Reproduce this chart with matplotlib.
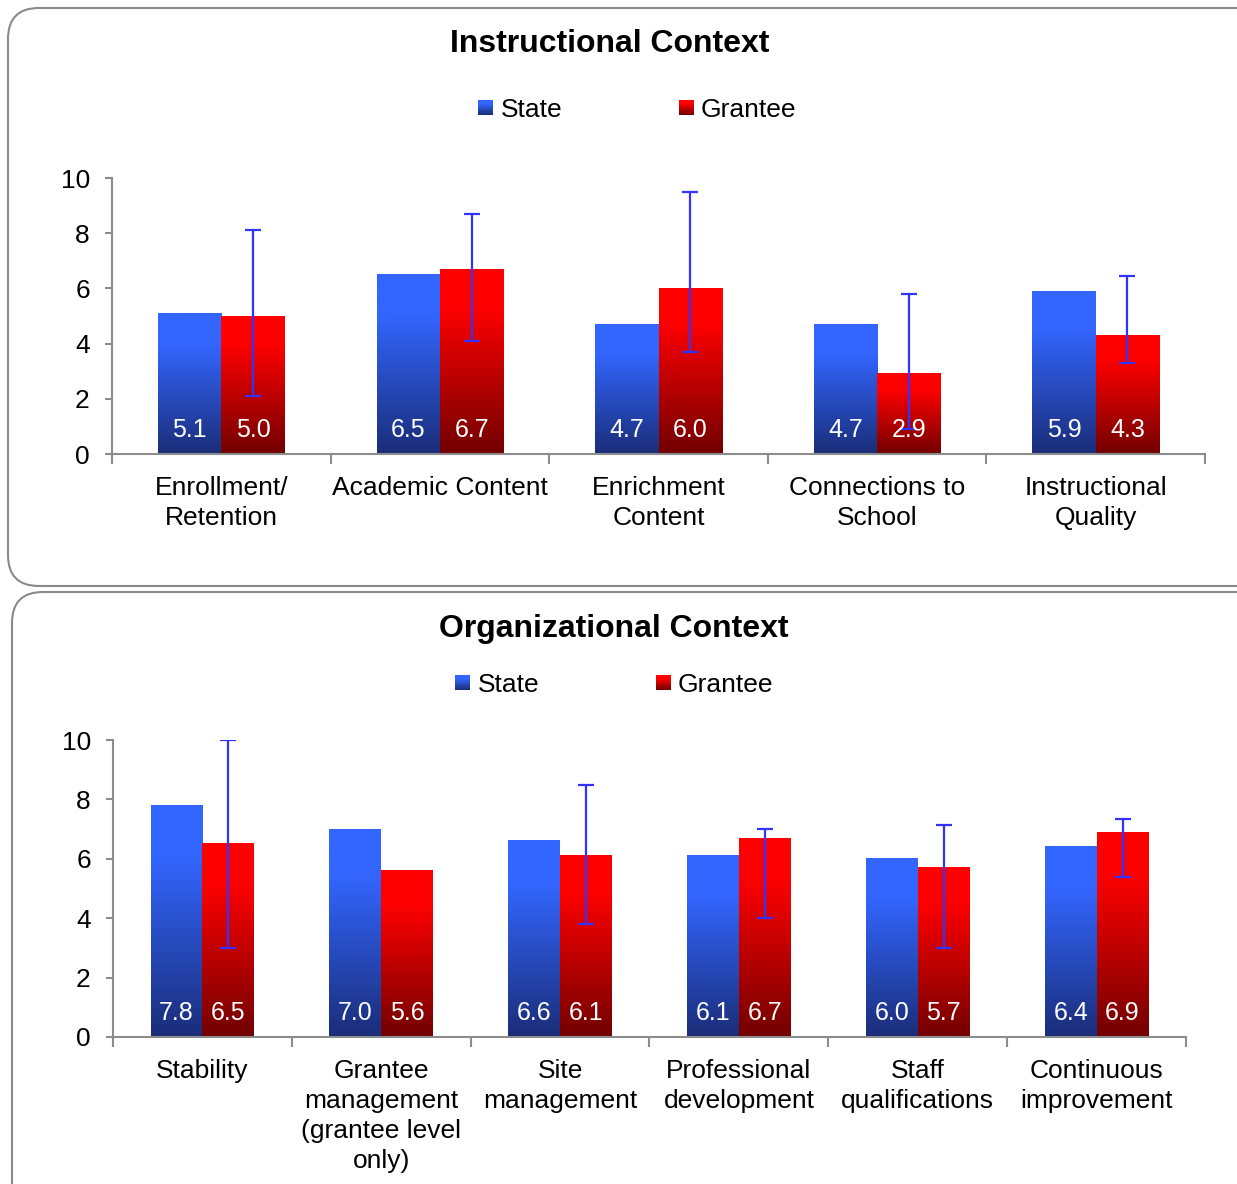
import numpy as np
import matplotlib
matplotlib.use("Agg")
import matplotlib.pyplot as plt
from matplotlib.colors import LinearSegmentedColormap
from matplotlib.patches import FancyBboxPatch, Rectangle
from matplotlib.legend_handler import HandlerBase

plt.rcParams['font.family'] = ['Liberation Sans', 'DejaVu Sans']

# ---- data ----
inst_categories = ["Enrollment/\nRetention", "Academic Content", "Enrichment\nContent",
                   "Connections to\nSchool", "Instructional\nQuality"]
inst_state = [5.1, 6.5, 4.7, 4.7, 5.9]
inst_grantee = [5.0, 6.7, 6.0, 2.9, 4.3]
inst_err_low = [2.1, 4.1, 3.7, 0.9, 3.3]
inst_err_high = [8.1, 8.7, 9.5, 5.8, 6.45]

org_categories = ["Stability", "Grantee\nmanagement\n(grantee level\nonly)", "Site\nmanagement",
                  "Professional\ndevelopment", "Staff\nqualifications", "Continuous\nimprovement"]
org_state = [7.8, 7.0, 6.6, 6.1, 6.0, 6.4]
org_grantee = [6.5, 5.6, 6.1, 6.7, 5.7, 6.9]
org_err_low = [3.0, None, 3.8, 4.0, 3.0, 5.4]
org_err_high = [10.0, None, 8.5, 7.0, 7.15, 7.35]

BLUE_TOP, BLUE_BOT = "#3366FF", "#1A2D78"
RED_TOP, RED_BOT = "#FF0000", "#720000"
blue_cmap = LinearSegmentedColormap.from_list("b", [(0, BLUE_BOT), (0.78, BLUE_TOP), (1, BLUE_TOP)])
red_cmap = LinearSegmentedColormap.from_list("r", [(0, RED_BOT), (0.8, RED_TOP), (1, RED_TOP)])
grad = np.linspace(0, 1, 256).reshape(-1, 1)
AXIS_GREY = "#8C8C8C"
FS = 19


class GradHandler(HandlerBase):
    def __init__(self, cmap):
        super().__init__()
        self.cmap = cmap

    def create_artists(self, legend, orig_handle, xdescent, ydescent, width, height, fontsize, trans):
        n = 12
        s = min(width, height) * 0.95
        x0 = -xdescent + (width - s) / 2
        y0 = -ydescent + (height - s) / 2
        arts = []
        for i in range(n):
            r = Rectangle((x0, y0 + s * i / n), s, s / n + 0.3, facecolor=self.cmap(i / (n - 1)),
                          edgecolor='none', transform=trans)
            arts.append(r)
        return arts


def draw_panel(ax, cats, state, grantee, lo, hi):
    x = np.arange(len(cats))
    w = 0.29
    b1 = ax.bar(x - w / 2, state, w, color='none', edgecolor='none')
    b2 = ax.bar(x + w / 2, grantee, w, color='none', edgecolor='none')
    for bars, cmap in ((b1, blue_cmap), (b2, red_cmap)):
        for p in bars:
            x0, bw, h = p.get_x(), p.get_width(), p.get_height()
            ax.imshow(grad, cmap=cmap, origin='lower', aspect='auto',
                      extent=[x0, x0 + bw, 0, h], zorder=2)
    for i in range(len(cats)):
        if lo[i] is not None:
            ax.errorbar(x[i] + w / 2, grantee[i], yerr=[[grantee[i] - lo[i]], [hi[i] - grantee[i]]],
                        fmt='none', ecolor='#3333FF', elinewidth=1.6, capsize=6, capthick=1.6, zorder=4)
    for xi, v in zip(x - w / 2, state):
        ax.annotate(f"{v:.1f}", (xi, 0), xytext=(0, 17), textcoords='offset points',
                    ha='center', va='center', color='white', fontsize=18, zorder=5)
    for xi, v in zip(x + w / 2, grantee):
        ax.annotate(f"{v:.1f}", (xi, 0), xytext=(0, 17), textcoords='offset points',
                    ha='center', va='center', color='white', fontsize=18, zorder=5)

    ax.set_xlim(-0.5, len(cats) - 0.5)
    ax.set_ylim(0, 10)
    ax.set_yticks([0, 2, 4, 6, 8, 10])
    ax.set_xticks(x)
    ax.set_xticklabels(cats, fontsize=FS, va='top', linespacing=1.31)
    ax.set_xticks(np.arange(len(cats) + 1) - 0.5, minor=True)
    ax.tick_params(axis='x', which='major', length=0, pad=16)
    ax.tick_params(axis='x', which='minor', length=7, width=1.5, color=AXIS_GREY, direction='out')
    ax.tick_params(axis='y', length=5, width=1.5, color=AXIS_GREY, labelsize=FS, pad=11)
    for s in ('top', 'right'):
        ax.spines[s].set_visible(False)
    for s in ('left', 'bottom'):
        ax.spines[s].set_color(AXIS_GREY)
        ax.spines[s].set_linewidth(1.5)
    return b1, b2


fig = plt.figure(figsize=(12.37, 11.84), dpi=100)

# rounded panel frames
fig.patches.append(FancyBboxPatch((8 / 1237, 1 - 586 / 1184), 1.2, (586 - 8) / 1184,
                                  boxstyle="round,pad=0,rounding_size=0.025",
                                  transform=fig.transFigure, facecolor='none',
                                  edgecolor='#8A8A8A', linewidth=1.5, mutation_aspect=1237 / 1184))
fig.patches.append(FancyBboxPatch((12 / 1237, -0.2), 1.2, 0.2 + 1 - 592 / 1184,
                                  boxstyle="round,pad=0,rounding_size=0.025",
                                  transform=fig.transFigure, facecolor='none',
                                  edgecolor='#8A8A8A', linewidth=1.5, mutation_aspect=1237 / 1184))

ax1 = fig.add_axes([112 / 1237, 1 - 454 / 1184, (1205 - 112) / 1237, (454 - 178) / 1184])
b1, b2 = draw_panel(ax1, inst_categories, inst_state, inst_grantee, inst_err_low, inst_err_high)
fig.text(610 / 1237, 1 - 44 / 1184, "Instructional Context", ha='center', va='center',
         fontsize=23, fontweight='bold')
fig.legend([b1, b2], ["State", "Grantee"], loc='center', bbox_to_anchor=(637 / 1237, 1 - 110 / 1184),
           ncol=2, frameon=False, fontsize=FS, handlelength=0.6, handleheight=0.6, handletextpad=0.25,
           columnspacing=4.4, handler_map={b1: GradHandler(blue_cmap), b2: GradHandler(red_cmap)})

ax2 = fig.add_axes([113 / 1237, 1 - 1037 / 1184, (1186 - 113) / 1237, (1037 - 740) / 1184])
c1, c2 = draw_panel(ax2, org_categories, org_state, org_grantee, org_err_low, org_err_high)
fig.text(614 / 1237, 1 - 629 / 1184, "Organizational Context", ha='center', va='center',
         fontsize=23, fontweight='bold')
fig.legend([c1, c2], ["State", "Grantee"], loc='center', bbox_to_anchor=(614 / 1237, 1 - 685 / 1184),
           ncol=2, frameon=False, fontsize=FS, handlelength=0.6, handleheight=0.6, handletextpad=0.25,
           columnspacing=4.4, handler_map={c1: GradHandler(blue_cmap), c2: GradHandler(red_cmap)})

fig.savefig("out.png", dpi=100)
